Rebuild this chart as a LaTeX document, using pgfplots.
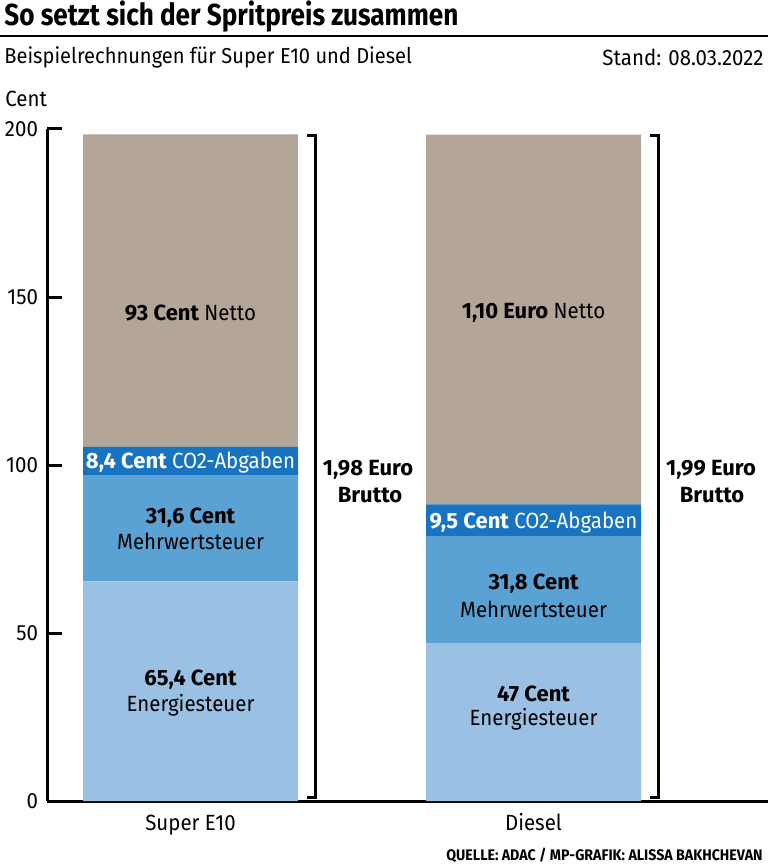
\documentclass[border=0pt]{standalone}
\usepackage{fontspec}
\setmainfont{Fira Sans}[FakeStretch=0.93]
\newfontfamily\lb{Fira Sans}[FakeStretch=1.0]
\newfontfamily\tf{Fira Sans}[FakeStretch=0.86]
\usepackage{pgfplots}
\pgfplotsset{compat=1.18}
\definecolor{cEn}{RGB}{154,193,228}
\definecolor{cMw}{RGB}{90,162,212}
\definecolor{cCO}{RGB}{24,116,192}
\definecolor{cNe}{RGB}{179,166,152}
\newcommand\B[1]{{\lb\bfseries #1}}
\begin{document}
\begin{tikzpicture}
\path[use as bounding box] (0,0) rectangle (384pt,-432.5pt);
\begin{scope}[x=0.5pt,y=-0.5pt]
\node[anchor=west,font=\tf\fontsize{15.2}{18}\selectfont\bfseries,inner sep=0] at (4,17) {So setzt sich der Spritpreis zusammen};
\draw[line width=1pt] (0,36) -- (768,36);
\node[anchor=west,font=\fontsize{10.8}{13}\selectfont,inner sep=0] at (4,57) {Beispielrechnungen für Super E10 und Diesel};
\node[anchor=east,font=\fontsize{11}{13}\selectfont,inner sep=0] at (764,57) {Stand: 08.03.2022};
\node[anchor=west,font=\fontsize{11}{13}\selectfont,inner sep=0] at (5,99) {Cent};
\node[anchor=east,font=\fontsize{7.65}{9}\selectfont\bfseries,inner sep=0] at (763,855) {QUELLE: ADAC / MP-GRAFIK: ALISSA BAKHCHEVAN};
\end{scope}
\begin{axis}[
  at={(23.5pt,-400.5pt)}, anchor=south west,
  scale only axis, width=360.5pt, height=336pt,
  xmin=47, xmax=768, ymin=0, ymax=200,
  axis lines=left,
  axis line style={-, line width=1.5pt},
  ybar stacked, bar width=215,
  ytick={0,50,100,150,200},
  xtick={190.5,533.5}, xticklabels={Super E10,Diesel},
  tick align=inside,
  major tick length=7.5pt,
  ytick style={line width=1.5pt, black},
  xtick style={draw=none},
  ticklabel style={font=\fontsize{11}{13}\selectfont},
  /pgf/number format/assume math mode=true,
  yticklabel style={xshift=-1pt},
  xticklabel style={yshift=-3pt, text height=1.6ex, text depth=0.5ex},
  clip=false,
]
\addplot[fill=cEn, draw=none] coordinates {(190.5,65.4) (533.5,47)};
\addplot[fill=cMw, draw=none] coordinates {(190.5,31.6) (533.5,31.8)};
\addplot[fill=cCO, draw=none] coordinates {(190.5,8.4) (533.5,9.5)};
\addplot[fill=cNe, draw=none] coordinates {(190.5,93) (533.5,110)};
\coordinate (e1) at (axis cs:190.5,145.2);
\coordinate (e2) at (axis cs:190.5,100.6);
\coordinate (e3) at (axis cs:190.5,84.4);
\coordinate (e4) at (axis cs:190.5,77.3);
\coordinate (e5) at (axis cs:190.5,36.0);
\coordinate (e6) at (axis cs:190.5,28.6);
\coordinate (d1) at (axis cs:533.5,145.2);
\coordinate (d2) at (axis cs:533.5,83.0);
\coordinate (d3) at (axis cs:533.5,64.6);
\coordinate (d4) at (axis cs:533.5,57.0);
\coordinate (d5) at (axis cs:533.5,32.0);
\coordinate (d6) at (axis cs:533.5,24.3);
\coordinate (b1) at (axis cs:368,98.5);
\coordinate (b2) at (axis cs:370,91.2);
\coordinate (c1) at (axis cs:711,98.5);
\coordinate (c2) at (axis cs:712,91.2);
% brackets
\draw[line width=1.5pt] (axis cs:307,198.2) -- (axis cs:315,198.2) -- (axis cs:315,0.9) -- (axis cs:307,0.9);
\draw[line width=1.5pt] (axis cs:650,198.2) -- (axis cs:658,198.2) -- (axis cs:658,0.9) -- (axis cs:650,0.9);
\end{axis}
\tikzset{lbl/.style={font=\fontsize{11}{13}\selectfont, inner sep=0}}
\node[lbl] at (e1) {\B{93 Cent} Netto};
\node[lbl,text=white] at (e2) {\B{8,4 Cent} CO2-Abgaben};
\node[lbl] at (e3) {\B{31,6 Cent}};
\node[lbl] at (e4) {Mehrwertsteuer};
\node[lbl] at (e5) {\B{65,4 Cent}};
\node[lbl] at (e6) {Energiesteuer};
\node[lbl] at (d1) {\B{1,10 Euro} Netto};
\node[lbl,text=white] at (d2) {\B{9,5 Cent} CO2-Abgaben};
\node[lbl] at (d3) {\B{31,8 Cent}};
\node[lbl] at (d4) {Mehrwertsteuer};
\node[lbl] at (d5) {\B{47 Cent}};
\node[lbl] at (d6) {Energiesteuer};
\node[lbl] at (b1) {\B{1,98 Euro}};
\node[lbl] at (b2) {\B{Brutto}};
\node[lbl] at (c1) {\B{1,99 Euro}};
\node[lbl] at (c2) {\B{Brutto}};
\end{tikzpicture}
\end{document}
